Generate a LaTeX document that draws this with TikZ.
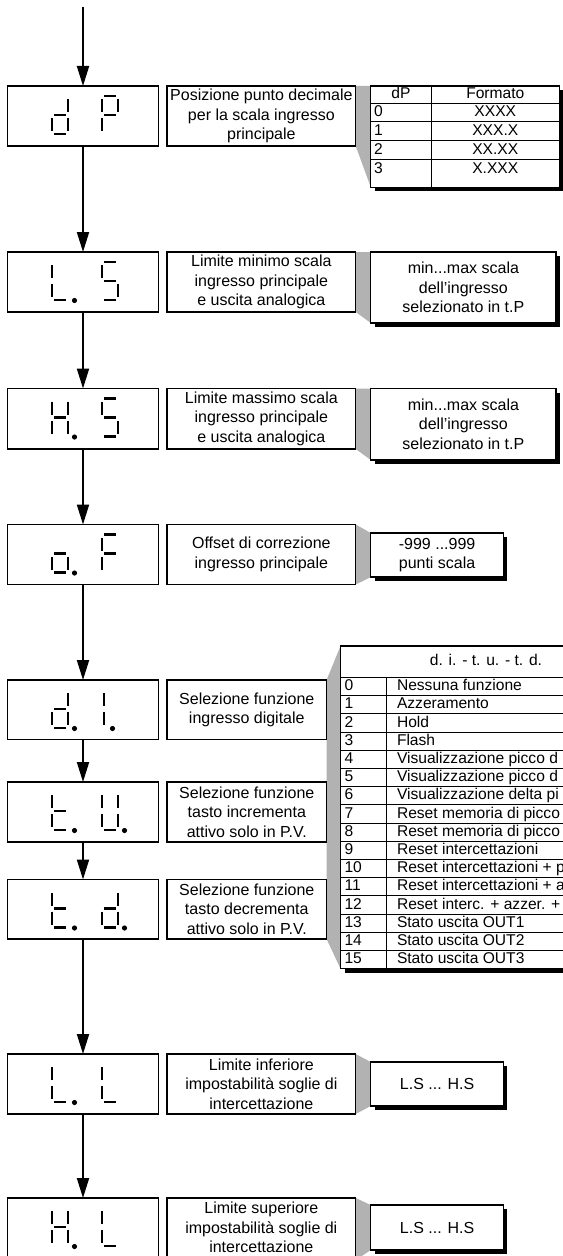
\documentclass[tikz,border=0pt]{standalone}
\usepackage{fontspec}
\setmainfont{Liberation Sans}
\usetikzlibrary{arrows.meta,fit,shadows,backgrounds}
\newcommand\sgA{\draw[seg] (2.2,0)--(13.8,0);}
\newcommand\sgB{\draw[seg] (16,3)--(16,16);}
\newcommand\sgC{\draw[seg] (16,22)--(16,35);}
\newcommand\sgD{\draw[seg] (2.2,38)--(13.8,38);}
\newcommand\sgE{\draw[seg] (0,22)--(0,35);}
\newcommand\sgF{\draw[seg] (0,3)--(0,16);}
\newcommand\sgG{\draw[seg] (2.2,19)--(13.8,19);}
\newcommand\sgP{\fill (22.5,38.5) circle[radius=2.6];}
\newcommand\ssd[3]{\begin{scope}[shift={(#1,#2)}]#3\end{scope}}
\begin{document}
\begin{tikzpicture}[x=0.75pt,y=-0.75pt,
  every node/.style={inner sep=0pt, outer sep=0pt},
  frame/.style={draw, line width=0.8pt, fill=white},
  sbox/.style={frame, general shadow={fill=black, shadow xshift=3pt, shadow yshift=-3pt}},
  lbl/.style={align=center, font=\fontsize{12}{14.5}\selectfont},
  cell/.style={font=\fontsize{11.7}{13}\selectfont, text height=8.4pt, text depth=2.4pt},
  arr/.style={line width=1.5pt, -{Triangle[length=15pt,width=9pt]}},
  seg/.style={line width=1.6pt},
  wedge/.style={fill=black!30},
  tline/.style={line width=0.7pt}
]
\clip (0,0) rectangle (563,1256);
% ---------- display boxes
\node[frame, fit={(7.5,86)(158.5,146)}] (dP) {};
\node[frame, fit={(7.5,252)(158.5,312)}] (LS) {};
\node[frame, fit={(7.5,388.5)(158.5,449)}] (HS) {};
\node[frame, fit={(7.5,524.5)(158.5,584.5)}] (oF) {};
\node[frame, fit={(7.5,680)(158.5,739.5)}] (di) {};
\node[frame, fit={(7.5,782)(158.5,842)}] (tu) {};
\node[frame, fit={(7.5,879.5)(158.5,939)}] (td) {};
\node[frame, fit={(7.5,1054)(158.5,1114)}] (LL) {};
\node[frame, fit={(7.5,1198)(158.5,1260)}] (HL) {};
% ---------- description boxes
\node[frame, fit={(167,86)(355.7,146)}] (dPd) {};
\node[frame, fit={(167,252)(355.7,312)}] (LSd) {};
\node[frame, fit={(167,388.5)(355.7,449)}] (HSd) {};
\node[frame, fit={(167,524.5)(355.7,584.5)}] (oFd) {};
\node[frame, fit={(167,680)(326.6,739.5)}] (did) {};
\node[frame, fit={(167,782)(326.6,842)}] (tud) {};
\node[frame, fit={(167,879.5)(326.6,939)}] (tdd) {};
\node[frame, fit={(167,1054)(355.7,1114)}] (LLd) {};
\node[frame, fit={(167,1198)(355.7,1260)}] (HLd) {};
% ---------- result boxes
\node[sbox, fit={(370.8,86)(559.5,187.3)}] (dPr) {};
\node[sbox, fit={(370.8,252)(556,323)}] (LSr) {};
\node[sbox, fit={(370.8,388.5)(556,460)}] (HSr) {};
\node[sbox, fit={(370.8,533)(503.4,577)}] (oFr) {};
\node[sbox, fit={(340.5,646)(631.5,968.7)}] (tab) {};
\node[sbox, fit={(370.8,1062)(503.4,1106)}] (LLr) {};
\node[sbox, fit={(370.8,1205)(503.4,1250)}] (HLr) {};
% ---------- grey wedges
\begin{pgfonlayer}{background}
\fill[wedge] (dPd.north east) -- (dPr.north west) -- (dPr.south west) -- (dPd.south east) -- cycle;
\fill[wedge] (LSd.north east) -- (LSr.north west) -- (LSr.south west) -- (LSd.south east) -- cycle;
\fill[wedge] (HSd.north east) -- (HSr.north west) -- (HSr.south west) -- (HSd.south east) -- cycle;
\fill[wedge] (oFd.north east) -- (oFr.north west) -- (oFr.south west) -- (oFd.south east) -- cycle;
\fill[wedge] (did.north east) -- (tab.north west) -- (tab.south west) -- (tdd.south east) -- cycle;
\fill[wedge] (LLd.north east) -- (LLr.north west) -- (LLr.south west) -- (LLd.south east) -- cycle;
\fill[wedge] (HLd.north east) -- (HLr.north west) -- (HLr.south west) -- (HLd.south east) -- cycle;
\end{pgfonlayer}
% ---------- description texts
\node[lbl] (dPt) at (dPd.center) {Posizione punto decimale\\per la scala ingresso\\principale};
\node[lbl] (LSt) at (LSd.center) {Limite minimo scala\\ingresso principale\\e uscita analogica};
\node[lbl] (HSt) at (HSd.center) {Limite massimo scala\\ingresso principale\\e uscita analogica};
\node[lbl] (oFt) at (oFd.center) {Offset di correzione\\ingresso principale};
\node[lbl] (dit) at (did.center) {Selezione funzione\\ingresso digitale};
\node[lbl] (tut) at (tud.center) {Selezione funzione\\tasto incrementa\\attivo solo in P.V.};
\node[lbl] (tdt) at (tdd.center) {Selezione funzione\\tasto decrementa\\attivo solo in P.V.};
\node[lbl] (LLt) at (LLd.center) {Limite inferiore\\impostabilità soglie di\\intercettazione};
\node[lbl] (HLt) at (261.3,1227.5) {Limite superiore\\impostabilità soglie di\\intercettazione};
% ---------- result texts
\node[lbl] (LSrt) at (LSr.center) {min...max scala\\dell’ingresso\\selezionato in t.P};
\node[lbl] (HSrt) at (HSr.center) {min...max scala\\dell’ingresso\\selezionato in t.P};
\node[lbl] (oFrt) at (oFr.center) {-999 ...999\\punti scala};
\node[lbl] (LLrt) at (LLr.center) {L.S ... H.S};
\node[lbl] (HLrt) at (HLr.center) {L.S ... H.S};
% ---------- dP table
\draw[tline] (370.8,103) -- (559.5,103);
\foreach \k in {1,2,3} \draw[tline] (370.8,103+18.9*\k) -- (559.5,103+18.9*\k);
\draw[tline] (431,86) -- (431,187.3);
\node[cell] (hdP) at (401,94.5) {dP};
\node[cell] (hFo) at (495.3,94.5) {Formato};
\foreach \n/\f [count=\i from 0] in {0/XXXX,1/XXX.X,2/XX.XX,3/X.XXX}{
  \node[cell,anchor=west] (dn\i) at (374,112.5+18.9*\i) {\n};
  \node[cell] (df\i) at (495.3,112.5+18.9*\i) {\f};
}
% ---------- big table
\node[cell] (th) at (486,661.5) {d. i. - t. u. - t. d.};
\draw[tline] (340.5,677.5) -- (631.5,677.5);
\foreach \k in {1,...,15} \draw[tline] (340.5,677.5+18.2*\k) -- (631.5,677.5+18.2*\k);
\draw[tline] (386,677.5) -- (386,968.7);
\foreach \t [count=\i from 0] in {Nessuna funzione,Azzeramento,Hold,Flash,Visualizzazione picco d,Visualizzazione picco d,Visualizzazione delta pi,Reset memoria di picco,Reset memoria di picco,Reset intercettazioni,Reset intercettazioni + p,Reset intercettazioni + a,Reset interc. + azzer. +,Stato uscita OUT1,Stato uscita OUT2,Stato uscita OUT3}{
  \node[cell,anchor=west] (tn\i) at (344.5,686.6+18.2*\i) {\i};
  \node[cell,anchor=west] (tt\i) at (397,686.6+18.2*\i) {\t};
}
% ---------- seven segment digits
\ssd{52}{96}{\sgB\sgC\sgD\sgE\sgG}
\ssd{102}{96}{\sgA\sgB\sgF\sgG\sgE}
\ssd{52}{262}{\sgF\sgE\sgD\sgP}
\ssd{102}{262}{\sgA\sgF\sgG\sgC\sgD}
\ssd{52}{398.5}{\sgF\sgB\sgG\sgE\sgC\sgP}
\ssd{102}{398.5}{\sgA\sgF\sgG\sgC\sgD}
\ssd{52}{534.5}{\sgG\sgE\sgC\sgD\sgP}
\ssd{102}{534.5}{\sgA\sgF\sgG\sgE}
\ssd{52}{690}{\sgB\sgC\sgD\sgE\sgG\sgP}
\ssd{102}{690}{\draw[seg] (2.2,3)--(2.2,16); \draw[seg] (2.2,22)--(2.2,35); \fill (10.5,38.5) circle[radius=2.6];}
\ssd{52}{792}{\sgF\sgE\sgG\sgD\sgP}
\ssd{102}{792}{\sgF\sgB\sgE\sgC\sgD\sgP}
\ssd{52}{889.5}{\sgF\sgE\sgG\sgD\sgP}
\ssd{102}{889.5}{\sgB\sgC\sgD\sgE\sgG\sgP}
\ssd{52}{1064}{\sgF\sgE\sgD\sgP}
\ssd{102}{1064}{\sgF\sgE\sgD}
\ssd{52}{1208}{\sgF\sgB\sgG\sgE\sgC\sgP}
\ssd{102}{1208}{\sgF\sgE\sgD}
% ---------- connectors
\coordinate (start) at (83,7);
\draw[arr] (start) -- (dP.north);
\draw[arr] (dP) -- (LS);
\draw[arr] (LS) -- (HS);
\draw[arr] (HS) -- (oF);
\draw[arr] (oF) -- (di);
\draw[arr] (di) -- (tu);
\draw[arr] (tu) -- (td);
\draw[arr] (td) -- (LL);
\draw[arr] (LL) -- (HL);
\end{tikzpicture}
\end{document}
